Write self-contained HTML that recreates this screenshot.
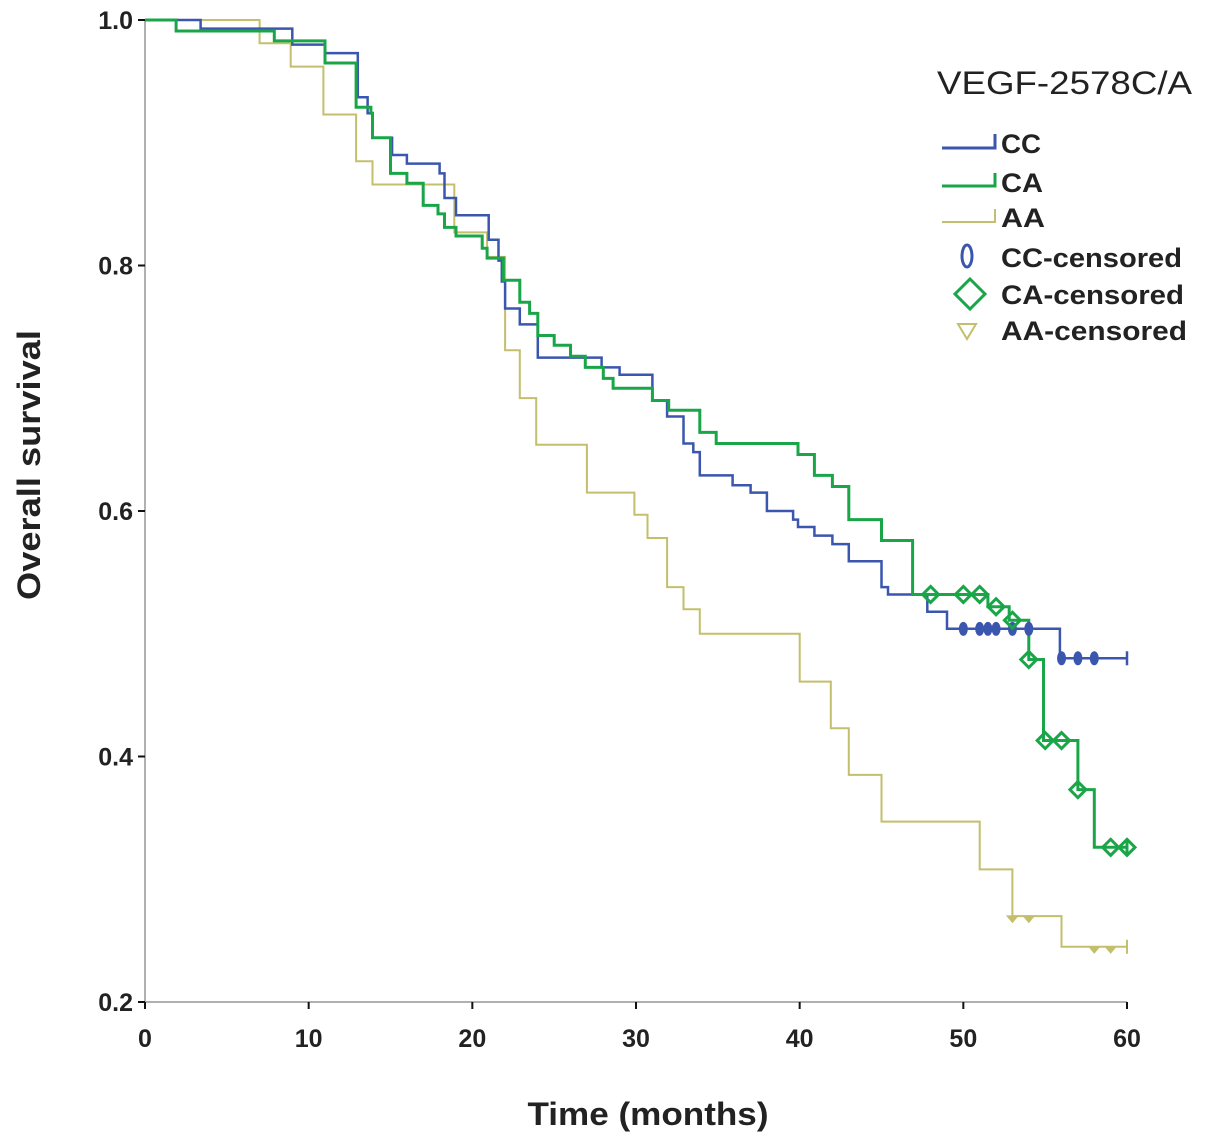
<!DOCTYPE html>
<html><head><meta charset="utf-8"><style>
body{margin:0;background:#fff;}
svg{display:block;font-family:"Liberation Sans",Arial,sans-serif;}
</style></head><body>
<svg id="chart" width="1205" height="1147" viewBox="0 0 1205 1147" xmlns="http://www.w3.org/2000/svg">
<g id="axes"></g>
<g id="series"></g>
<text transform="translate(40,465) rotate(-90)" text-anchor="middle" font-size="32" font-weight="bold" fill="#222" textLength="270" lengthAdjust="spacingAndGlyphs">Overall survival</text>
<text x="648" y="1125" text-anchor="middle" font-size="32" font-weight="bold" fill="#222" textLength="241" lengthAdjust="spacingAndGlyphs">Time (months)</text>
<g>
<text x="937" y="94" font-size="32" fill="#222" textLength="255" lengthAdjust="spacingAndGlyphs">VEGF-2578C/A</text>
<path d="M942,148 H995 V134" fill="none" stroke="#3a56ae" stroke-width="3"/>
<text x="1001" y="153" font-size="27" fill="#222" font-weight="bold" textLength="40" lengthAdjust="spacingAndGlyphs">CC</text>
<path d="M942,186 H995 V173" fill="none" stroke="#1aa648" stroke-width="3"/>
<text x="1001" y="192" font-size="27" fill="#222" font-weight="bold" textLength="42" lengthAdjust="spacingAndGlyphs">CA</text>
<path d="M942,222 H995 V209" fill="none" stroke="#c3bf6c" stroke-width="2"/>
<text x="1001" y="227" font-size="27" fill="#222" font-weight="bold" textLength="44" lengthAdjust="spacingAndGlyphs">AA</text>
<ellipse cx="967" cy="256" rx="5" ry="11" fill="none" stroke="#3a56ae" stroke-width="3"/>
<text x="1001" y="267" font-size="27" fill="#222" font-weight="bold" textLength="181" lengthAdjust="spacingAndGlyphs">CC-censored</text>
<path d="M970,279 L985,294 L970,309 L955,294 Z" fill="none" stroke="#1aa648" stroke-width="3"/>
<text x="1001" y="304" font-size="27" fill="#222" font-weight="bold" textLength="183" lengthAdjust="spacingAndGlyphs">CA-censored</text>
<path d="M958,324 L976,324 L967,339 Z" fill="none" stroke="#c3bf6c" stroke-width="2"/>
<text x="1001" y="340" font-size="27" fill="#222" font-weight="bold" textLength="186" lengthAdjust="spacingAndGlyphs">AA-censored</text>
</g>
</svg>
<script>
const xTicks=[0,10,20,30,40,50,60];
const yTicks=[0.2,0.4,0.6,0.8,1.0];
const yTickLabels=["0.2","0.4","0.6","0.8","1.0"];
const ccTimes=[3.4,9,11,13,13.6,13.9,15.1,16,18,18.3,19,21,21.6,21.8,22,22.9,24,27.9,29,31,31.9,32.9,33.5,33.9,35.9,37,38,39.6,39.9,40.9,42,43,45,45.4,47.8,49,55.9];
const ccSurv=[0.993,0.980,0.973,0.937,0.924,0.904,0.890,0.883,0.875,0.855,0.841,0.821,0.804,0.787,0.765,0.752,0.725,0.717,0.711,0.690,0.677,0.655,0.648,0.629,0.621,0.615,0.600,0.593,0.587,0.580,0.573,0.559,0.538,0.532,0.518,0.504,0.480];
const ccCensored=[50,51,51.5,52,53,54,56,57,58];
const caTimes=[1.9,7.9,11,12.9,13.8,13.9,15,16,17,17.9,18.3,19,20.6,20.9,21.9,22.9,23.5,24,25,26,26.9,28,28.6,31,32,33.9,34.9,39.9,40.9,42,43,45,46.9,51.5,52.8,54,54.9,57,58];
const caSurv=[0.991,0.983,0.965,0.929,0.924,0.904,0.875,0.867,0.849,0.842,0.831,0.824,0.814,0.806,0.788,0.770,0.761,0.743,0.735,0.726,0.717,0.708,0.700,0.690,0.682,0.664,0.655,0.646,0.629,0.620,0.593,0.576,0.532,0.522,0.511,0.479,0.413,0.373,0.326];
const caCensored=[48,50,51,52,53,54,55,56,57,59,60];
const aaTimes=[7,8.9,10.9,12.9,13.9,18.9,20.9,22,22.9,23.9,27,29.9,30.7,31.9,32.9,33.9,40,41.9,43,45,51,53,56];
const aaSurv=[0.981,0.962,0.923,0.885,0.866,0.827,0.807,0.731,0.692,0.654,0.615,0.597,0.578,0.538,0.520,0.500,0.461,0.423,0.385,0.347,0.308,0.270,0.245];
const aaCensored=[53,54,58,59];

const X0=145,X1=1127,Y0=1002,Y1=20;
function xs(t){return X0+(t/60)*(X1-X0);}
function ys(s){return Y0-((s-0.2)/0.8)*(Y0-Y1);}
const NS="http://www.w3.org/2000/svg";
function mk(tag,attrs,parent){const e=document.createElementNS(NS,tag);for(const k in attrs)e.setAttribute(k,attrs[k]);parent.appendChild(e);return e;}
const axes=document.getElementById('axes');
const ax=mk('line',{x1:X0,y1:Y1,x2:X0,y2:Y0,stroke:'#b0b0b0','stroke-width':2},axes);


const bx=mk('line',{x1:X0,y1:Y0,x2:X1,y2:Y0,stroke:'#b0b0b0','stroke-width':2},axes);


xTicks.forEach(t=>{
  const l=mk('line',{x1:xs(t),y1:Y0,x2:xs(t),y2:Y0+7,stroke:'#111','stroke-width':2},axes);
  
  
  const tx=mk('text',{x:xs(t),y:Y0+45,'text-anchor':'middle','font-size':25,'font-weight':'bold',fill:'#222'},axes);
  
  
  tx.textContent=t;
});
yTicks.forEach((v,i)=>{
  const l=mk('line',{x1:X0-7,y1:ys(v),x2:X0,y2:ys(v),stroke:'#111','stroke-width':2},axes);
  
  
  const tx=mk('text',{x:X0-12,y:ys(v)+9,'text-anchor':'end','font-size':25,'font-weight':'bold',fill:'#222'},axes);
  
  
  tx.textContent=yTickLabels[i];
});
const sg=document.getElementById('series');
function survAt(times,surv,t){let s=1;for(let i=0;i<times.length;i++){if(times[i]<=t)s=surv[i];}return s;}
function drawSeries(name,times,surv,color,w){
  let d='M'+xs(0)+','+ys(1);
  for(let i=0;i<times.length;i++){d+=' H'+xs(times[i]).toFixed(1)+' V'+ys(surv[i]).toFixed(1);}
  d+=' H'+xs(60);
  const p=mk('path',{d:d,fill:'none',stroke:color,'stroke-width':w},sg);
  
  
  const e=mk('line',{x1:xs(60),y1:ys(surv[surv.length-1])-7,x2:xs(60),y2:ys(surv[surv.length-1])+7,stroke:color,'stroke-width':w},sg);
  
  
}
drawSeries('aa',aaTimes,aaSurv,'#c3bf6c',2);
drawSeries('cc',ccTimes,ccSurv,'#3a56ae',2.5);
drawSeries('ca',caTimes,caSurv,'#1aa648',3);
ccCensored.forEach(t=>{
  const c=mk('ellipse',{cx:xs(t),cy:ys(survAt(ccTimes,ccSurv,t)),rx:3.5,ry:6,fill:'#3a56ae',stroke:'#3a56ae','stroke-width':2},sg);
  
  
});
caCensored.forEach(t=>{
  const x=xs(t),y=ys(survAt(caTimes,caSurv,t));
  const c=mk('path',{d:`M${x},${y-8} L${x+8},${y} L${x},${y+8} L${x-8},${y} Z`,fill:'none',stroke:'#1aa648','stroke-width':3},sg);
  
  
});
aaCensored.forEach(t=>{
  const x=xs(t),y=ys(survAt(aaTimes,aaSurv,t));
  const c=mk('path',{d:`M${x-5},${y} L${x+5},${y} L${x},${y+6} Z`,fill:'#c3bf6c',stroke:'#c3bf6c','stroke-width':1.5},sg);
  
  
});
</script>
</body></html>
